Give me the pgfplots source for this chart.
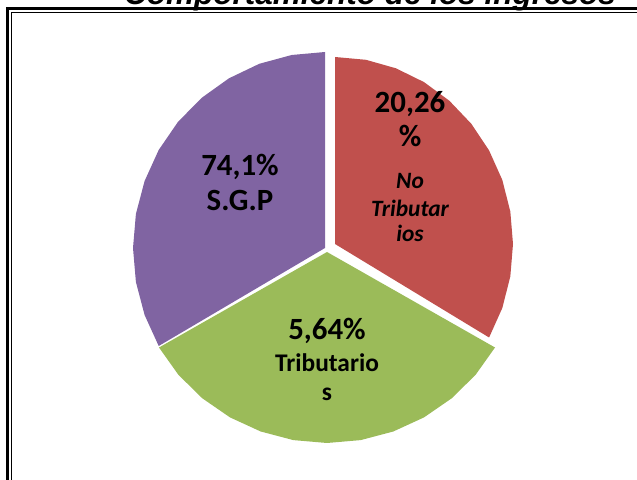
\documentclass[border=0pt]{standalone}
\usepackage{fontspec}
\setmainfont{Carlito}
\newfontfamily\titlefont{Liberation Sans}
\usepackage{pgfplots}
\pgfplotsset{compat=1.18}
\definecolor{sgp}{HTML}{8064A2}
\definecolor{notrib}{HTML}{C0504D}
\definecolor{trib}{HTML}{9BBB59}
\begin{document}
\begin{tikzpicture}[x=1bp,y=1bp]
\useasboundingbox (0,0) rectangle (637,480);
\clip (0,0) rectangle (637,480);
\begin{axis}[at={(0,0)}, anchor=south west, scale only axis,
  width=637bp, height=480bp, xmin=0, xmax=637, ymin=0, ymax=480,
  hide axis, clip=false]
% S.G.P slice (74,1%)
\addplot[fill=sgp, draw=none] coordinates {
 (325,232) (325,428) (291.7,425.0) (259.3,416.2) (229.0,401.7) (201.6,382.1)
 (177.9,358.0) (158.7,330.0) (144.6,299.0) (135.9,266.0) (133,232)
 (135.9,198.0) (144.6,165.0) (158.7,134.0)};
% No Tributarios slice (20,26%)
\addplot[fill=notrib, draw=none] coordinates {
 (335,236) (335,423) (365.9,420.2) (395.9,411.7) (424.0,397.9) (449.4,379.2)
 (471.3,356.2) (489.1,329.5) (502.3,300.0) (510.3,268.5) (513,236)
 (510.3,203.5) (502.3,172.0) (489.1,142.5)};
% Tributarios slice (5,64%)
\addplot[fill=trib, draw=none] coordinates {
 (327,228) (159.0,132.5) (178.4,105.2) (202.3,81.7) (230.0,62.6) (260.7,48.5)
 (293.3,39.9) (327,37) (360.7,39.9) (393.3,48.5) (424.0,62.6) (451.7,81.7)
 (475.6,105.2) (495.0,132.5)};
% labels
\node[anchor=base, font=\bfseries\fontsize{31}{36}\selectfont] at (axis cs:240,304) {74,1\%};
\node[anchor=base, font=\bfseries\fontsize{31}{36}\selectfont] at (axis cs:240,269) {S.G.P};
\node[anchor=base, font=\bfseries\fontsize{31}{36}\selectfont] at (axis cs:410,367) {20,26};
\node[anchor=base, font=\bfseries\fontsize{31}{36}\selectfont] at (axis cs:410,333) {\%};
\node[anchor=base, font=\bfseries\itshape\fontsize{23.5}{28}\selectfont] at (axis cs:410,291) {No};
\node[anchor=base, font=\bfseries\itshape\fontsize{23.5}{28}\selectfont] at (axis cs:410,263) {Tributar};
\node[anchor=base, font=\bfseries\itshape\fontsize{23.5}{28}\selectfont] at (axis cs:410,238) {ios};
\node[anchor=base, font=\bfseries\fontsize{31}{36}\selectfont] at (axis cs:327,140) {5,64\%};
\node[anchor=base, font=\bfseries\fontsize{25.5}{30}\selectfont] at (axis cs:327,108) {Tributario};
\node[anchor=base, font=\bfseries\fontsize{25.5}{30}\selectfont] at (axis cs:327,79) {s};
% title
\node[anchor=base, font=\titlefont\bfseries\itshape\fontsize{31.6}{36}\selectfont] at (axis cs:370,475) {Comportamiento de los ingresos};
\end{axis}
% frame (double line)
\draw[line width=3bp] (7.5,-10) -- (7.5,471) -- (650,471);
\draw[line width=1.2bp] (11.6,-10) -- (11.6,467.4) -- (650,467.4);
\end{tikzpicture}
\end{document}
